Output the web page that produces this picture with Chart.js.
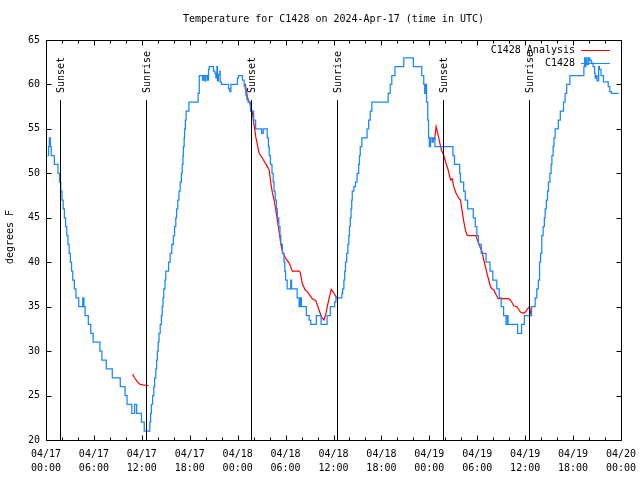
<!DOCTYPE html>
<html><head><meta charset="utf-8">
<script src="https://cdn.jsdelivr.net/npm/chart.js@4/dist/chart.umd.min.js"></script>
<style>html,body{margin:0;padding:0;background:#fff}canvas{display:block}</style>
</head><body>
<canvas id="c" width="640" height="480"></canvas>
<script>
// ---- Data (hours since 04/17 00:00 UTC) ----
const obsHours = [0.2,0.32,0.42,0.55,0.65,1.05,1.5,1.7,1.85,2.0,2.15,2.3,2.45,2.6,2.75,2.9,3.05,3.2,3.35,3.55,3.75,4.1,4.6,4.75,4.9,5.3,5.6,5.9,6.75,7.0,7.55,8.3,9.3,9.9,10.15,10.75,11.1,11.35,11.95,12.3,13.0,13.1,13.2,13.35,13.5,13.6,13.75,13.85,13.95,14.05,14.15,14.3,14.45,14.55,14.65,14.75,14.9,15.0,15.35,15.55,15.75,15.95,16.1,16.25,16.35,16.5,16.65,16.8,16.95,17.05,17.15,17.2,17.3,17.35,17.45,17.55,17.9,19.05,19.19,19.6,19.72,19.9,20.02,20.22,20.35,20.44,20.97,21.15,21.27,21.4,21.47,21.6,21.77,21.81,21.97,22.85,23.02,23.15,23.97,24.1,24.6,24.81,24.94,25.02,25.15,25.3,25.6,26.0,26.25,27.0,27.2,27.7,27.85,27.95,28.1,28.3,28.45,28.55,28.7,28.85,28.97,29.15,29.3,29.4,29.6,29.8,29.9,30.0,30.2,30.65,30.75,31.45,31.7,31.85,31.98,32.6,32.95,33.15,33.85,34.45,35.2,35.6,36.15,36.3,37.05,37.15,37.3,37.4,37.5,37.65,37.8,37.92,38.0,38.1,38.2,38.28,38.35,38.55,38.75,38.95,39.15,39.25,39.35,39.55,40.2,40.4,40.6,40.8,42.85,43.1,43.3,43.7,44.8,46.0,47.05,47.3,47.42,47.5,47.65,47.8,47.9,48.0,48.15,48.35,48.5,48.7,50.95,51.15,51.8,51.9,52.3,52.5,52.8,53.5,53.75,53.95,54.15,54.5,55.1,55.6,55.95,56.45,56.75,57.0,57.3,57.6,57.78,57.85,59.05,59.55,59.9,60.8,61.25,61.45,61.65,61.8,61.93,62.08,62.25,62.4,62.5,62.65,62.8,62.92,63.1,63.25,63.35,63.5,63.6,63.75,64.15,64.4,64.8,65.0,65.2,65.6,67.35,67.45,67.55,67.6,67.75,67.95,68.1,68.3,68.5,68.7,68.77,68.9,69.0,69.2,69.3,69.5,69.8,70.4,70.6,70.8,71.7];
const obsTemps = [52,53,54,53,52,51,50,49,48,47,46,45,44,43,42,41,40,39,38,37,36,35,36,35,34,33,32,31,30,29,28,27,26,25,24,23,24,23,22,21,22,23,24,25,26,27,28,29,30,31,32,33,34,35,36,37,38,39,40,41,42,43,44,45,46,47,48,49,50,51,52,53,54,55,56,57,58,59,61,60.5,61,60.4,61,60.5,61.7,62,61.5,61.25,60.75,62,60.4,61.1,61.5,60.25,60,59.5,59.2,60,60.7,61,60.5,59.8,59.5,58.8,58.3,58,57,56,55,54.5,55,54,53,52,51,50,49,48,47,46,45,44,43,42,41,40,39,38,37,38,37,36,35,36,35,34,33.5,33,34,33,34,35,35.5,36,36.5,37,38,39,40,41,42,43,44,45,46,47,48,48.5,49,50,51,52,53,54,55,56,57,58,59,60,61,62,63,62,61,60,59,60,58,56,54,53,54,53.5,54,53,52,51,50,49,48,47,46,45,44,43,42,41,40,39,38,37,36,35,34,33,34,33,32,33,34,35,36,37,38,40,41,43,44,45,46,47,48,49,50,51,52,53,54,55,56,57,58,59,60,61,62,63,62,63,62.25,63,62.7,62.4,62,61.25,60.7,61,60.4,62,61.7,61,60.3,59.75,59.2,59,59];
const anaHours = [10.85,11.1,11.4,11.7,12.1,12.85,null,
  24.94,25.22,25.65,25.85,26.06,26.27,26.47,26.69,27.1,27.72,27.94,28.15,28.35,28.56,28.77,28.97,29.19,29.4,29.6,29.81,30.02,30.44,30.85,31.69,31.81,32.1,32.44,32.72,33.02,33.35,33.77,33.97,34.27,34.52,34.81,35.02,35.22,35.44,35.72,35.94,36.19,36.47,null,
  48.65,48.85,49.06,49.27,49.52,49.81,50.1,50.35,50.65,50.85,51.06,51.35,51.69,51.9,52.1,52.31,52.52,52.72,52.94,53.85,53.97,54.19,54.4,54.6,54.81,55.02,55.22,55.44,55.65,55.85,56.06,56.27,56.6,57.94,58.27,58.56,58.97,59.4,59.81,60.02,60.35,60.56,60.72];
const anaTemps = [27.4,27,26.6,26.3,26.2,26.1,null,
  60.1,58.6,57.5,56.75,55.4,54.1,53.2,52.25,51.7,50.75,50.4,48.9,47.8,47,45.9,44.75,43.4,42.1,41.2,40.8,40.4,39.9,39,39,38.9,37.6,36.9,36.7,36.3,35.9,35.7,35.2,34.4,33.8,33.5,34.1,35,35.9,36.95,36.7,36.3,35.9,null,
  53.75,55.25,54.5,53.6,52.6,52,51.1,50.4,49.25,49.4,48.5,47.75,47.2,47,45.8,44.6,43.6,43.06,43,43,42.6,42.1,41.6,41.2,40.25,39.5,38.75,38,37.25,37,36.9,36.5,35.9,35.9,35.6,35.1,35,34.4,34.25,34.4,34.8,35,34.1];
const sunHours = [1.7, 12.55, 25.7, 36.45, 49.7, 60.45];
const sunLabels = ['Sunset','Sunrise','Sunset','Sunrise','Sunset','Sunrise'];
const tickDays = ['04/17','04/18','04/19','04/20'];
const tickTimes = ['00:00','06:00','12:00','18:00'];
const yTickValues = [20,25,30,35,40,45,50,55,60,65];
const seriesNames = ['C1428 Analysis','C1428'];
const titleText = 'Temperature for C1428 on 2024-Apr-17 (time in UTC)';
const yAxisTitle = 'degrees F';

const FONT = '10px "DejaVu Sans Mono", monospace';
const BLUE = '#1a86ff';
const RED = '#ff0000';

function pts(xs, ys){ return xs.map((x,i)=> ({x: x, y: ys[i]})); }

const decorPlugin = {
  id: 'decor',
  afterDraw(chart){
    const ctx = chart.ctx, a = chart.chartArea, xs = chart.scales.x, ys = chart.scales.y;
    const L = Math.round(a.left)+0.5, R = Math.round(a.right)+0.5, T = Math.round(a.top)+0.5, B = Math.round(a.bottom)+0.5;
    ctx.save();
    ctx.strokeStyle = '#000'; ctx.lineWidth = 1;
    ctx.font = FONT; ctx.fillStyle = '#000';
    sunHours.forEach((h,i)=>{
      const px = Math.round(xs.getPixelForValue(h))+0.5;
      const top = a.bottom - 0.85*(a.bottom-a.top);
      ctx.beginPath(); ctx.moveTo(px, B); ctx.lineTo(px, top); ctx.stroke();
      ctx.save(); ctx.translate(px+1, top-7); ctx.rotate(-Math.PI/2);
      ctx.textAlign='left'; ctx.textBaseline='middle'; ctx.fillText(sunLabels[i],0,0); ctx.restore();
    });
    ctx.beginPath(); ctx.rect(L, T, R-L, B-T); ctx.stroke();
    for (let h = xs.min; h <= xs.max; h += 2){
      const px = Math.round(xs.getPixelForValue(h))+0.5;
      const len = (h % 6 === 0) ? 5 : 3;
      ctx.beginPath(); ctx.moveTo(px, B); ctx.lineTo(px, B-len); ctx.moveTo(px, T); ctx.lineTo(px, T+len); ctx.stroke();
    }
    yTickValues.forEach(v=>{
      const py = Math.round(ys.getPixelForValue(v))+0.5;
      ctx.beginPath(); ctx.moveTo(L, py); ctx.lineTo(L+5, py); ctx.moveTo(R, py); ctx.lineTo(R-5, py); ctx.stroke();
    });
    ctx.textAlign='center'; ctx.textBaseline='middle';
    ctx.fillText(titleText, (a.left+a.right)/2, 19);
    ctx.save(); ctx.translate(10, 237); ctx.rotate(-Math.PI/2); ctx.fillText(yAxisTitle,0,0); ctx.restore();
    ctx.textAlign='right';
    const colors=[RED, BLUE];
    seriesNames.forEach((n,i)=>{
      const y = 50 + i*13;
      ctx.fillText(n, 575, y);
      ctx.strokeStyle = colors[i];
      ctx.beginPath(); ctx.moveTo(581, Math.round(y)+0.5); ctx.lineTo(610, Math.round(y)+0.5); ctx.stroke();
    });
    ctx.restore();
  }
};

new Chart(document.getElementById('c'), {
  type: 'line',
  data: {
    datasets: [
      { label: seriesNames[1], data: pts(obsHours, obsTemps), borderColor: BLUE, borderWidth: 1.25, pointRadius: 0, stepped: 'before', fill: false, order: 0 },
      { label: seriesNames[0], data: pts(anaHours, anaTemps), borderColor: RED, borderWidth: 1.2, pointRadius: 0, fill: false, spanGaps: false, order: 1 }
    ]
  },
  options: {
    responsive: false, animation: false,
    layout: { padding: { top: 40, right: 19, left: 0, bottom: 0 } },
    plugins: { legend: { display: false }, tooltip: { enabled: false }, title: { display: false } },
    scales: {
      x: {
        type: 'linear', min: 0, max: 72,
        grid: { display: false, drawTicks: false },
        border: { display: false },
        afterFit(s){ s.height = 40; s.paddingLeft = 0; s.paddingRight = 0; },
        afterBuildTicks(s){ s.ticks = []; for (let h=0; h<=72; h+=6) s.ticks.push({value:h}); },
        ticks: {
          padding: 7, color: '#000', maxRotation: 0, autoSkip: false,
          font: { family: '"DejaVu Sans Mono", monospace', size: 10, lineHeight: 1.4 },
          callback(v){ return [tickDays[Math.floor(v/24)], tickTimes[(v%24)/6]]; }
        }
      },
      y: {
        min: 20, max: 65,
        grid: { display: false, drawTicks: false },
        border: { display: false },
        afterFit(s){ s.width = 46; s.paddingTop = 0; s.paddingBottom = 0; },
        afterBuildTicks(s){ s.ticks = yTickValues.map(v=>({value:v})); },
        ticks: { padding: 6, color: '#000', font: { family: '"DejaVu Sans Mono", monospace', size: 10 } }
      }
    }
  },
  plugins: [decorPlugin]
});
</script>
</body></html>
